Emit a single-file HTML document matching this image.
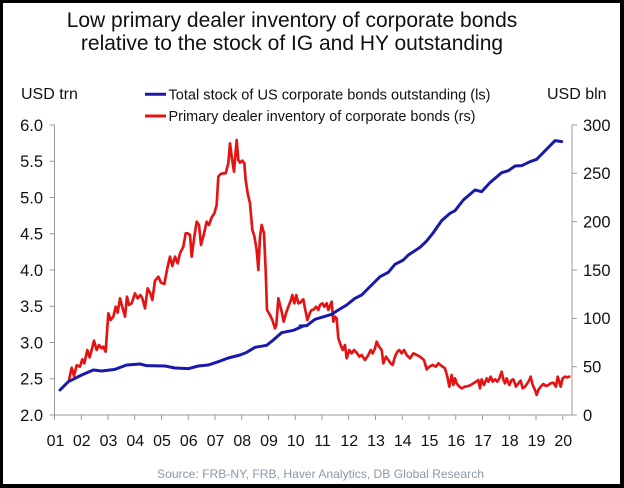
<!DOCTYPE html>
<html>
<head>
<meta charset="utf-8">
<style>
  html,body{margin:0;padding:0;background:#000;}
  svg{display:block;}
  text{font-family:"Liberation Sans",Arial,sans-serif;}
</style>
</head>
<body>
<svg width="624" height="488" viewBox="0 0 624 488" xmlns="http://www.w3.org/2000/svg">
  <rect x="0" y="0" width="624" height="488" fill="#000"/>
  <rect x="3" y="3" width="617" height="481" fill="#fff"/>

  <!-- Title -->
  <text x="292" y="27" font-size="21" text-anchor="middle" fill="#111">Low primary dealer inventory of corporate bonds</text>
  <text x="292" y="50" font-size="21" text-anchor="middle" fill="#111">relative to the stock of IG and HY outstanding</text>

  <!-- Axis titles -->
  <text x="21" y="99" font-size="16" fill="#111">USD trn</text>
  <text x="547" y="99" font-size="16" fill="#111">USD bln</text>

  <!-- Legend -->
  <line x1="145" y1="94.3" x2="166" y2="94.3" stroke="#1a1aaa" stroke-width="3"/>
  <text x="168.5" y="99.3" font-size="14.5" fill="#111" textLength="322" lengthAdjust="spacingAndGlyphs">Total stock of US corporate bonds outstanding (ls)</text>
  <line x1="145" y1="116" x2="166" y2="116" stroke="#e41414" stroke-width="3"/>
  <text x="168.5" y="121" font-size="14.5" fill="#111" textLength="307" lengthAdjust="spacingAndGlyphs">Primary dealer inventory of corporate bonds (rs)</text>

  <!-- Axes -->
  <g stroke="#999" stroke-width="1" fill="none">
    <line x1="54.5" y1="125" x2="54.5" y2="415"/>
    <line x1="572" y1="125" x2="572" y2="415"/>
    <line x1="54.5" y1="415" x2="572" y2="415"/>
    <line x1="49.5" y1="415" x2="54.5" y2="415"/>
    <line x1="49.5" y1="378.75" x2="54.5" y2="378.75"/>
    <line x1="49.5" y1="342.5" x2="54.5" y2="342.5"/>
    <line x1="49.5" y1="306.25" x2="54.5" y2="306.25"/>
    <line x1="49.5" y1="270" x2="54.5" y2="270"/>
    <line x1="49.5" y1="233.75" x2="54.5" y2="233.75"/>
    <line x1="49.5" y1="197.5" x2="54.5" y2="197.5"/>
    <line x1="49.5" y1="161.25" x2="54.5" y2="161.25"/>
    <line x1="49.5" y1="125" x2="54.5" y2="125"/>
    <line x1="572" y1="415" x2="577" y2="415"/>
    <line x1="572" y1="366.67" x2="577" y2="366.67"/>
    <line x1="572" y1="318.33" x2="577" y2="318.33"/>
    <line x1="572" y1="270" x2="577" y2="270"/>
    <line x1="572" y1="221.67" x2="577" y2="221.67"/>
    <line x1="572" y1="173.33" x2="577" y2="173.33"/>
    <line x1="572" y1="125" x2="577" y2="125"/>
    <line x1="54.5" y1="415" x2="54.5" y2="420"/>
    <line x1="81.25" y1="415" x2="81.25" y2="420"/>
    <line x1="108" y1="415" x2="108" y2="420"/>
    <line x1="134.75" y1="415" x2="134.75" y2="420"/>
    <line x1="161.5" y1="415" x2="161.5" y2="420"/>
    <line x1="188.25" y1="415" x2="188.25" y2="420"/>
    <line x1="215" y1="415" x2="215" y2="420"/>
    <line x1="241.75" y1="415" x2="241.75" y2="420"/>
    <line x1="268.5" y1="415" x2="268.5" y2="420"/>
    <line x1="295.25" y1="415" x2="295.25" y2="420"/>
    <line x1="322" y1="415" x2="322" y2="420"/>
    <line x1="348.75" y1="415" x2="348.75" y2="420"/>
    <line x1="375.5" y1="415" x2="375.5" y2="420"/>
    <line x1="402.25" y1="415" x2="402.25" y2="420"/>
    <line x1="429" y1="415" x2="429" y2="420"/>
    <line x1="455.75" y1="415" x2="455.75" y2="420"/>
    <line x1="482.5" y1="415" x2="482.5" y2="420"/>
    <line x1="509.25" y1="415" x2="509.25" y2="420"/>
    <line x1="536" y1="415" x2="536" y2="420"/>
    <line x1="562.75" y1="415" x2="562.75" y2="420"/>
  </g>

  <!-- Left tick labels -->
  <g font-size="16.5" fill="#111" text-anchor="end">
    <text x="43" y="420.8">2.0</text>
    <text x="43" y="384.5">2.5</text>
    <text x="43" y="348.3">3.0</text>
    <text x="43" y="312">3.5</text>
    <text x="43" y="275.8">4.0</text>
    <text x="43" y="239.5">4.5</text>
    <text x="43" y="203.3">5.0</text>
    <text x="43" y="167">5.5</text>
    <text x="43" y="130.8">6.0</text>
  </g>
  <!-- Right tick labels -->
  <g font-size="16.5" fill="#111">
    <text x="583" y="420.8">0</text>
    <text x="583" y="372.5">50</text>
    <text x="583" y="324.1">100</text>
    <text x="583" y="275.8">150</text>
    <text x="583" y="227.5">200</text>
    <text x="583" y="179.1">250</text>
    <text x="583" y="130.8">300</text>
  </g>
  <!-- X labels -->
  <g font-size="16" fill="#111" text-anchor="middle">
    <text x="55.5" y="446">01</text>
    <text x="81.75" y="446">02</text>
    <text x="108.5" y="446">03</text>
    <text x="135.25" y="446">04</text>
    <text x="162" y="446">05</text>
    <text x="188.75" y="446">06</text>
    <text x="215.5" y="446">07</text>
    <text x="242.25" y="446">08</text>
    <text x="269" y="446">09</text>
    <text x="295.75" y="446">10</text>
    <text x="322.5" y="446">11</text>
    <text x="349.25" y="446">12</text>
    <text x="376" y="446">13</text>
    <text x="402.75" y="446">14</text>
    <text x="429.5" y="446">15</text>
    <text x="456.25" y="446">16</text>
    <text x="483" y="446">17</text>
    <text x="509.75" y="446">18</text>
    <text x="536.5" y="446">19</text>
    <text x="563.25" y="446">20</text>
  </g>

  <!-- Source -->
  <text x="157" y="478" font-size="12" fill="#8a99a8" textLength="327" lengthAdjust="spacingAndGlyphs">Source: FRB-NY, FRB, Haver Analytics, DB Global Research</text>

  <g transform="translate(55 130) scale(0.333333)" fill="none" stroke-linejoin="round" stroke-linecap="round">
    <polyline stroke="#e41414" stroke-width="8" points="42,750 50,713 57,738 65,706 75,710 82,688 88,700 97,660 104,682 110,660 117,632 125,660 132,645 140,655 145,650 152,665 160,550 167,570 175,560 182,530 188,548 195,505 203,535 210,560 216,500 222,525 230,520 240,490 248,505 256,495 262,505 270,535 278,475 286,490 292,510 300,452 310,440 318,458 328,462 338,410 345,380 352,408 360,380 368,400 375,370 385,350 392,310 398,310 405,315 410,380 418,320 425,275 432,285 438,345 446,315 455,275 462,285 470,262 478,250 485,225 490,140 497,132 505,130 512,130 520,100 525,40 530,80 537,125 545,30 550,90 555,98 562,92 568,100 572,150 578,190 585,220 592,300 598,318 605,360 610,420 615,320 620,285 627,310 632,420 636,540 645,555 652,570 660,595 664,585 670,505 680,545 686,575 693,550 700,530 708,510 712,495 718,520 724,495 730,520 736,518"/>
    <polyline stroke="#1a1aaa" stroke-width="9" points="15,780 40,755 80,735 115,720 140,723 180,718 215,705 255,702 275,707 330,708 360,714 400,716 430,708 460,705 490,695 520,684 555,675 575,667 600,652 635,646 655,630 680,608 715,601 745,588"/>
  </g>
  <g transform="translate(300 130) scale(0.333333)" fill="none" stroke-linejoin="round" stroke-linecap="round">
    <polyline stroke="#e41414" stroke-width="8" points="0,518 10,508 15,535 22,570 30,548 35,540 42,538 48,530 55,540 60,525 67,520 73,530 80,520 85,540 90,528 95,515 100,575 105,560 110,565 115,625 122,645 128,660 135,645 140,685 148,660 155,670 162,660 170,668 178,680 185,675 195,690 205,675 212,660 218,670 225,655 230,635 237,650 245,660 250,700 258,680 265,690 272,700 278,705 285,680 292,665 298,660 305,670 312,660 320,675 330,685 340,670 350,675 360,680 372,690 380,718 388,710 398,705 408,710 415,700 425,708 435,715 442,740 448,770 455,735 460,765 465,745 470,760 478,770 485,775 495,770 505,768 512,765 520,760 528,755 535,750 540,775 545,748 552,765 560,745 565,755 572,740 578,755 585,748 592,755 598,745 605,725 610,748 615,760 620,745 628,765 635,750 640,748 648,770 655,760 662,752 668,775 675,770 682,760 688,750 692,740 698,765 705,780 710,795 715,780 722,770 730,762 738,768 745,765 752,760 760,758 768,770 773,740 778,755 782,770 788,745 795,740 802,742 808,740"/>
    <polyline stroke="#1a1aaa" stroke-width="9" points="0,588 20,587 45,568 95,553 110,543 140,525 165,505 185,495 215,465 240,440 265,427 285,403 310,390 325,375 360,352 380,333 400,308 425,272 450,250 465,242 490,210 525,180 545,185 570,158 605,128 625,122 645,108 665,107 690,95 710,88 765,32 785,35"/>
  </g>
</svg>
</body>
</html>
